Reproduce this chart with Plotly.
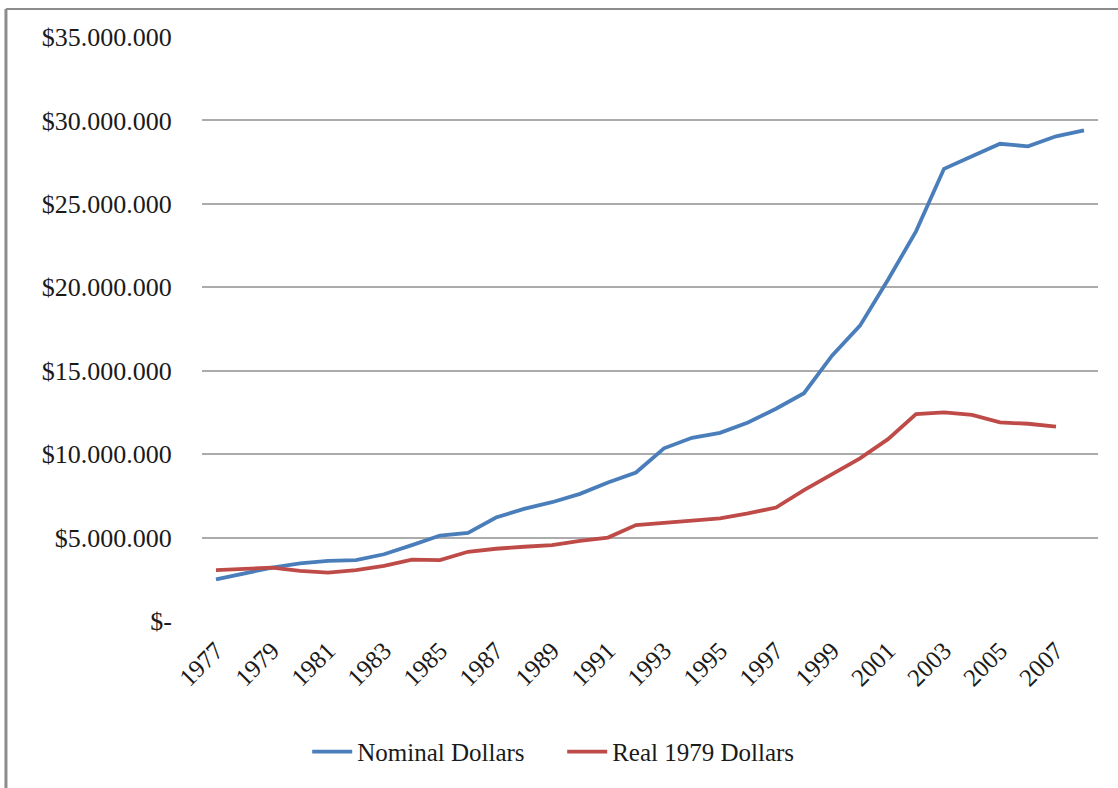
import plotly.graph_objects as go

# Annual totals, 1977-2008
years = list(range(1977, 2009))
nominal_dollars = [
    2.50, 2.85, 3.20, 3.45, 3.60, 3.65, 4.00, 4.55, 5.12, 5.28,
    6.20, 6.72, 7.12, 7.62, 8.30, 8.90, 10.35, 10.98, 11.28, 11.90,
    12.72, 13.65, 15.90, 17.70, 20.45, 23.35, 27.10, 27.85, 28.60, 28.45,
    29.05, 29.40,
]
real_1979_dollars = [
    3.05, 3.15, 3.20, 3.00, 2.90, 3.05, 3.30, 3.68, 3.65, 4.15,
    4.33, 4.45, 4.55, 4.80, 5.00, 5.75, 5.90, 6.00, 6.15, 6.45,
    6.80, 7.85, 8.80, 9.75, 10.90, 12.40, 12.50, 12.35, 11.90, 11.82,
    11.65,
]
nominal_dollars = [v * 1_000_000 for v in nominal_dollars]
real_1979_dollars = [v * 1_000_000 for v in real_1979_dollars]

y_tick_values = [0, 5e6, 10e6, 15e6, 20e6, 25e6, 30e6, 35e6]
y_tick_labels = ["$-", "$5.000.000", "$10.000.000", "$15.000.000",
                 "$20.000.000", "$25.000.000", "$30.000.000", "$35.000.000"]
x_tick_years = list(range(1977, 2009, 2))

FONT = "Liberation Serif, Times New Roman, serif"

fig = go.Figure()
fig.add_trace(go.Scatter(
    x=years, y=nominal_dollars, mode="lines", name="Nominal Dollars",
    line=dict(color="#4A7EBB", width=3.8),
))
fig.add_trace(go.Scatter(
    x=years[:len(real_1979_dollars)], y=real_1979_dollars, mode="lines",
    name="Real 1979 Dollars",
    line=dict(color="#BE4B48", width=3.8),
))

fig.update_layout(
    width=1118, height=788,
    margin=dict(l=202, r=20, t=37, b=167),
    paper_bgcolor="white", plot_bgcolor="white",
    font=dict(family=FONT, size=25, color="#1a1a1a"),
    showlegend=True,
    legend=dict(
        orientation="h", x=0.402, xanchor="center", y=-0.224, yanchor="middle",
        font=dict(family=FONT, size=25, color="#1a1a1a"),
        itemwidth=40, tracegroupgap=0, entrywidth=200,
    ),
    xaxis=dict(
        range=[1976.5, 2008.5],
        tickvals=x_tick_years, ticktext=[str(y) for y in x_tick_years],
        tickangle=-45, showgrid=False, zeroline=False, showline=False,
        ticks="outside", ticklen=4, tickcolor="rgba(0,0,0,0)",
        tickfont=dict(family=FONT, size=25, color="#1a1a1a"),
    ),
    yaxis=dict(
        range=[0, 35e6],
        tickvals=y_tick_values, ticktext=y_tick_labels,
        showgrid=True, gridcolor="#ABABAB", gridwidth=1.5,
        zeroline=False, showline=False,
        ticks="outside", ticklen=24, tickcolor="rgba(0,0,0,0)",
        tickfont=dict(family=FONT, size=26, color="#1a1a1a"),
    ),
    shapes=[
        # outer chart frame: left and top edges
        dict(type="line", xref="paper", yref="paper",
             x0=-0.2188, x1=-0.2188, y0=-0.30, y1=1.048,
             line=dict(color="#8C8C8C", width=3)),
        dict(type="line", xref="paper", yref="paper",
             x0=-0.2188, x1=1.03, y0=1.048, y1=1.048,
             line=dict(color="#8C8C8C", width=2)),
    ],
)

fig.write_html("out.html")
